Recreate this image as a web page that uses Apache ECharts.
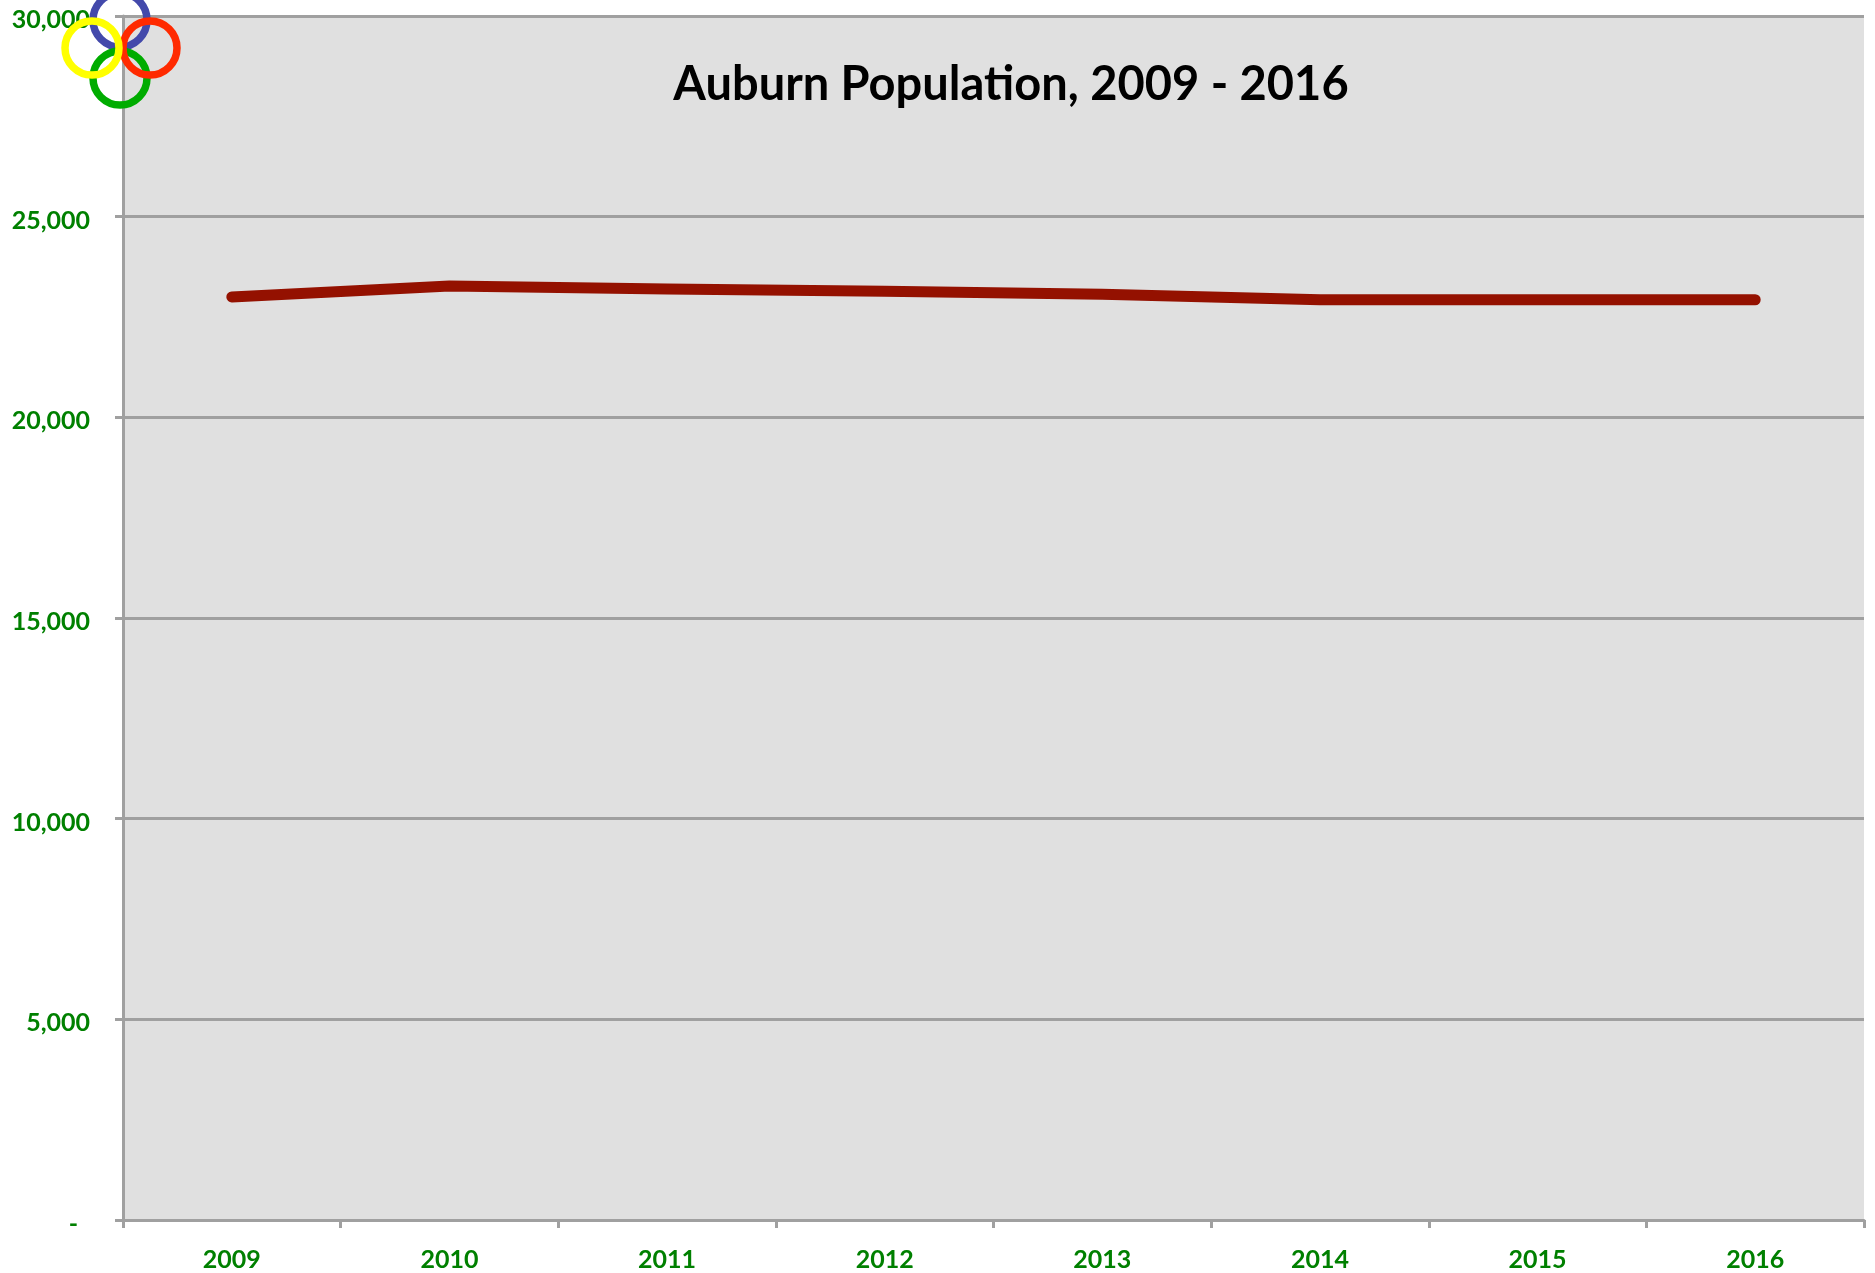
<!DOCTYPE html>
<html>
<head>
<meta charset="utf-8">
<title>Auburn Population</title>
<script src="https://cdn.jsdelivr.net/npm/echarts@6/dist/echarts.min.js"></script>
<style>
  html, body { margin: 0; padding: 0; background: #fff; }
  #chart { width: 1875px; height: 1273px; }
</style>
</head>
<body>
<div id="chart"></div>
<script>
const years = ['2009', '2010', '2011', '2012', '2013', '2014', '2015', '2016'];
const population = [23000, 23270, 23200, 23140, 23065, 22930, 22930, 22930];
const titleText = 'Auburn Population, 2009 - 2016';

const green = '#008000';
const axisGrey = '#a0a0a0';

// overlapping rings in the top left corner, later ones paint on top
const rings = [
  { cx: 120, cy: 20, color: '#4349ab' },
  { cx: 120, cy: 78, color: '#00ac00' },
  { cx: 150, cy: 48, color: '#ff2a00' },
  { cx: 92, cy: 48, color: '#ffff00' }
];

const chart = echarts.init(document.getElementById('chart'));

chart.setOption({
  animation: false,
  title: {
    text: titleText,
    left: 1006,
    top: 56,
    textAlign: 'center',
    textStyle: { fontFamily: 'Lato', fontWeight: 'bold', fontSize: 47, color: '#000' }
  },
  grid: {
    left: 123,
    top: 16,
    width: 1741,
    height: 1204,
    show: true,
    backgroundColor: '#e0e0e0',
    borderWidth: 0
  },
  xAxis: {
    type: 'category',
    data: years,
    boundaryGap: true,
    axisLine: { lineStyle: { color: axisGrey, width: 3 } },
    axisTick: { show: true, length: 8, lineStyle: { color: axisGrey, width: 3 } },
    axisLabel: {
      color: green,
      fontFamily: 'Lato',
      fontWeight: 'bold',
      fontSize: 25,
      margin: 27
    }
  },
  yAxis: {
    type: 'value',
    min: 0,
    max: 30000,
    interval: 5000,
    axisLine: { show: true, lineStyle: { color: axisGrey, width: 3 } },
    axisTick: { show: true, length: 8, lineStyle: { color: axisGrey, width: 3 } },
    splitLine: { show: true, lineStyle: { color: axisGrey, width: 3 } },
    axisLabel: {
      color: green,
      fontFamily: 'Lato',
      fontWeight: 'bold',
      fontSize: 25,
      margin: 33,
      padding: [8, 0, 0, 0],
      formatter: function (value) {
        return value === 0 ? '{dash|-}' : value.toLocaleString('en-US');
      },
      rich: {
        dash: {
          color: green,
          fontFamily: 'Lato',
          fontWeight: 'bold',
          fontSize: 25,
          padding: [0, 12, 0, 0]
        }
      }
    }
  },
  series: [
    {
      type: 'line',
      data: population,
      showSymbol: false,
      lineStyle: { color: '#941100', width: 11, cap: 'round', join: 'round' }
    }
  ],
  graphic: rings.map(function (ring) {
    return {
      type: 'circle',
      z: 100,
      shape: { cx: ring.cx, cy: ring.cy, r: 27 },
      style: { fill: 'none', stroke: ring.color, lineWidth: 7.5 }
    };
  })
});
</script>
</body>
</html>
